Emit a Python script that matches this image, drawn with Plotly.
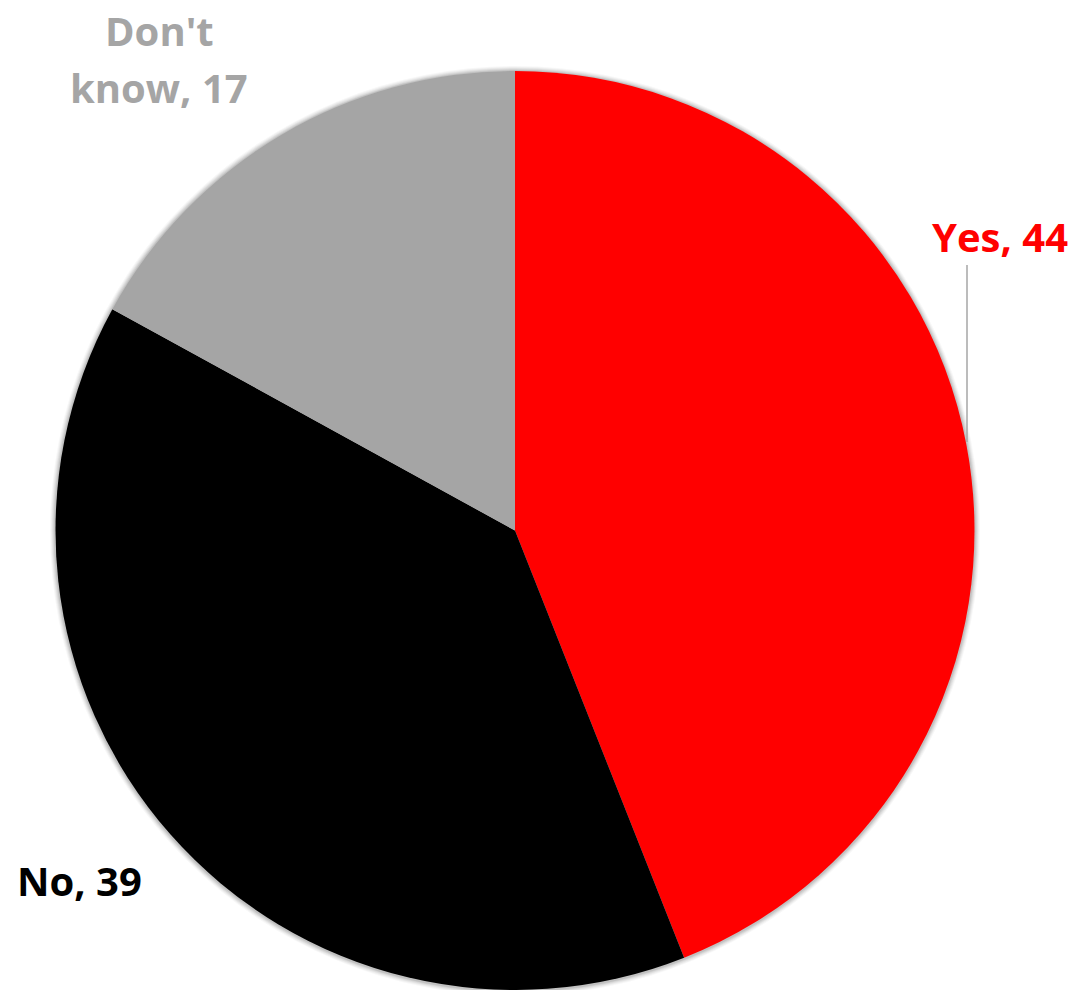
import plotly.graph_objects as go

labels = ["Yes", "No", "Don't know"]
values = [44, 39, 17]
colors = ["#FF0000", "#000000", "#A5A5A5"]

# page body has an 8px margin; figure is sized to fill the rest of the window
OFF = 8
W, H = 1076 - OFF, 990 - OFF


def fx(px):
    return (px - OFF) / W


def fy(py):
    return 1 - (py - OFF) / H


CX, CY, R = 515, 531, 460

fig = go.Figure(go.Pie(
    labels=labels,
    values=values,
    sort=False,
    direction="clockwise",
    rotation=0,
    marker=dict(colors=colors, line=dict(width=0)),
    textinfo="none",
    hoverinfo="label+value",
    domain=dict(x=[fx(CX - R), fx(CX + R)], y=[max(0.0, fy(CY + R)), fy(CY - R)]),
))

# soft shadow around the pie
for k, a in [(5, 0.03), (4, 0.04), (3, 0.05), (2, 0.06), (1, 0.08)]:
    fig.add_shape(type="circle", xref="paper", yref="paper",
                  xsizemode="pixel", ysizemode="pixel",
                  xanchor=fx(CX), yanchor=fy(CY),
                  x0=-(R + k), x1=R + k, y0=-(R + k), y1=R + k,
                  fillcolor=f"rgba(0,0,0,{a})", line=dict(width=0), layer="below")

font_family = "Open Sans, Lato, sans-serif"
annots = [
    ("Yes, 44", colors[0], 1000, 237),
    ("No, 39", colors[1], 79, 880),
    ("Don't", colors[2], 159, 30),
    ("know, 17", colors[2], 159, 87),
]
for txt, col, px, py in annots:
    fig.add_annotation(
        x=fx(px), y=fy(py), xref="paper", yref="paper",
        text=f"<b>{txt}</b>", showarrow=False,
        font=dict(family=font_family, size=40, color=col),
        xanchor="center", yanchor="middle", align="center",
    )

# leader line for "Yes"
fig.add_shape(type="line", xref="paper", yref="paper",
              x0=fx(967), x1=fx(967), y0=fy(265), y1=fy(442),
              line=dict(color="#A6A6A6", width=1.5))

fig.update_layout(
    width=W, height=H,
    margin=dict(l=0, r=0, t=0, b=0),
    paper_bgcolor="white", plot_bgcolor="white",
    showlegend=False,
)

fig.write_html("out.html")
